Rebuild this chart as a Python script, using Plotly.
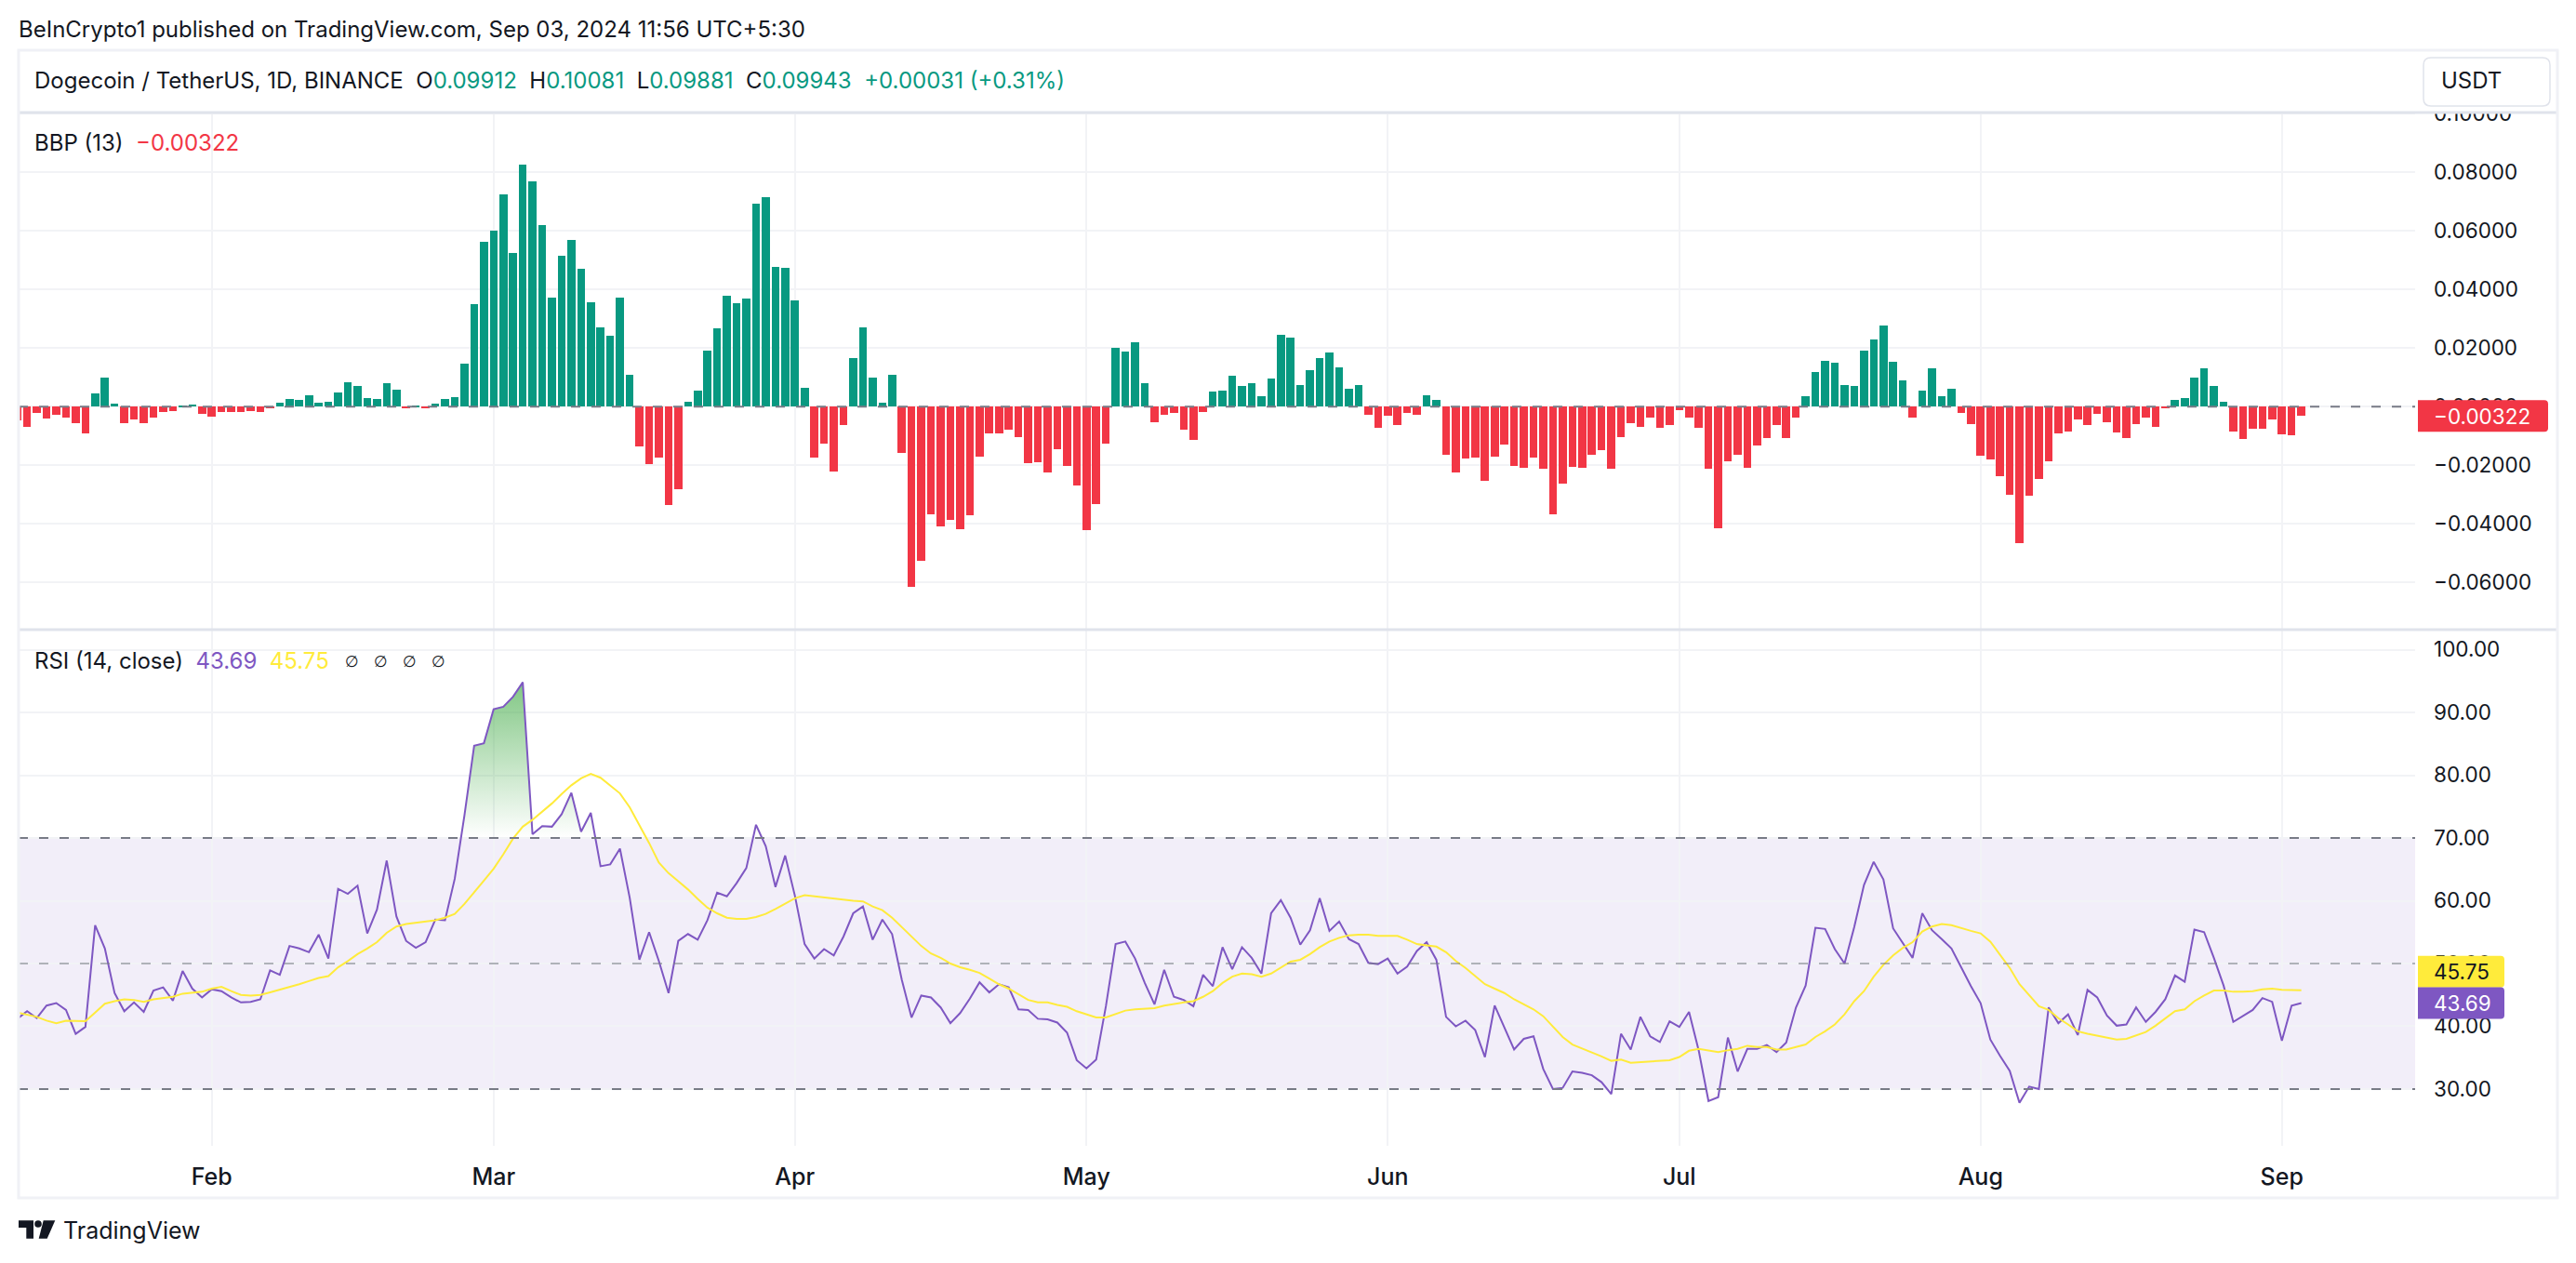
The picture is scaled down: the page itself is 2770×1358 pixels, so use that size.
import numpy as np
import pandas as pd
import plotly.graph_objects as go

W, H = 2770, 1358

# values, one per daily bar from 2024-01-12
bbp = [
    -0.0047, -0.0069, -0.0023, -0.0041, -0.0028, -0.0036, -0.0058, -0.0092, 0.0045, 0.0099,
    0.0010, -0.0058, -0.0045, -0.0055, -0.0036, -0.0017, -0.0014, 0.0004, 0.0007, -0.0025,
    -0.0034, -0.0018, -0.0018, -0.0018, -0.0014, -0.0018, -0.0006, 0.0014, 0.0026, 0.0022,
    0.0039, 0.0014, 0.0017, 0.0048, 0.0083, 0.0070, 0.0029, 0.0026, 0.0080, 0.0058,
    -0.0006, 0.0003, -0.0006, 0.0010, 0.0026, 0.0032, 0.0146, 0.0350, 0.0562, 0.0600,
    0.0724, 0.0525, 0.0826, 0.0768, 0.0620, 0.0372, 0.0515, 0.0569, 0.0471, 0.0357,
    0.0270, 0.0242, 0.0372, 0.0109, -0.0136, -0.0197, -0.0174, -0.0336, -0.0282, 0.0017,
    0.0055, 0.0191, 0.0267, 0.0379, 0.0353, 0.0369, 0.0693, 0.0715, 0.0476, 0.0474,
    0.0362, 0.0063, -0.0174, -0.0127, -0.0222, -0.0063, 0.0165, 0.0270, 0.0099, 0.0014,
    0.0109, -0.0158, -0.0616, -0.0526, -0.0368, -0.0409, -0.0388, -0.0419, -0.0370, -0.0171,
    -0.0092, -0.0092, -0.0078, -0.0105, -0.0193, -0.0190, -0.0224, -0.0146, -0.0202, -0.0270,
    -0.0421, -0.0333, -0.0127, 0.0201, 0.0187, 0.0219, 0.0080, -0.0054, -0.0028, -0.0022,
    -0.0078, -0.0114, -0.0019, 0.0050, 0.0055, 0.0105, 0.0070, 0.0080, 0.0036, 0.0096,
    0.0245, 0.0235, 0.0073, 0.0124, 0.0165, 0.0185, 0.0134, 0.0061, 0.0073, -0.0028,
    -0.0072, -0.0030, -0.0063, -0.0022, -0.0028, 0.0039, 0.0022, -0.0165, -0.0224, -0.0178,
    -0.0174, -0.0253, -0.0171, -0.0129, -0.0202, -0.0209, -0.0174, -0.0212, -0.0368, -0.0263,
    -0.0205, -0.0209, -0.0165, -0.0149, -0.0212, -0.0105, -0.0056, -0.0069, -0.0037, -0.0073,
    -0.0063, -0.0012, -0.0037, -0.0073, -0.0212, -0.0416, -0.0187, -0.0165, -0.0209, -0.0134,
    -0.0107, -0.0063, -0.0107, -0.0037, 0.0036, 0.0118, 0.0156, 0.0150, 0.0073, 0.0070,
    0.0191, 0.0229, 0.0277, 0.0153, 0.0090, -0.0037, 0.0055, 0.0131, 0.0036, 0.0061,
    -0.0022, -0.0059, -0.0168, -0.0180, -0.0238, -0.0302, -0.0467, -0.0304, -0.0248, -0.0187,
    -0.0092, -0.0085, -0.0043, -0.0063, -0.0025, -0.0054, -0.0088, -0.0107, -0.0059, -0.0037,
    -0.0069, -0.0006, 0.0022, 0.0028, 0.0099, 0.0131, 0.0070, 0.0017, -0.0085, -0.0110,
    -0.0076, -0.0076, -0.0044, -0.0095, -0.0098, -0.00322,
]

rsi = [
    41.2, 42.4, 41.3, 43.3, 43.7, 42.6, 38.8, 39.9, 56.1, 52.4,
    45.3, 42.4, 43.8, 42.3, 45.7, 46.2, 44.1, 48.8, 46.0, 44.6,
    45.9, 45.6, 44.6, 43.8, 43.9, 44.3, 48.9, 48.2, 52.8, 52.4,
    51.8, 54.6, 50.8, 61.9, 61.1, 62.4, 54.8, 58.6, 66.4, 57.5,
    53.6, 52.5, 53.4, 57.0, 56.9, 63.5, 73.6, 84.7, 85.1, 90.5,
    90.9, 92.5, 94.8, 70.6, 71.9, 71.8, 73.8, 77.2, 71.0, 74.0,
    65.5, 65.8, 68.3, 60.5, 50.6, 55.0, 50.4, 45.3, 53.6, 54.7,
    53.8, 56.9, 61.3, 60.7, 62.8, 65.2, 72.1, 68.7, 62.2, 67.2,
    60.8, 53.1, 50.8, 52.3, 51.3, 54.3, 58.0, 59.1, 53.8, 57.0,
    54.7, 47.4, 41.4, 44.9, 44.6, 43.0, 40.5, 42.1, 44.4, 47.0,
    45.4, 46.7, 46.2, 42.7, 42.6, 41.2, 41.1, 40.6, 39.0, 34.6,
    33.3, 34.7, 43.2, 53.1, 53.5, 50.8, 46.9, 43.5, 49.0, 44.7,
    44.2, 43.2, 48.2, 46.4, 52.6, 49.1, 52.6, 50.9, 48.4, 58.0,
    60.1, 57.3, 53.0, 55.3, 60.4, 55.2, 56.7, 53.9, 53.1, 50.1,
    49.9, 50.8, 48.4, 49.5, 52.0, 53.4, 50.6, 41.5, 40.0, 40.9,
    39.4, 35.1, 43.3, 39.8, 36.3, 38.0, 38.4, 33.2, 30.0, 30.2,
    32.8, 32.6, 32.2, 31.1, 29.2, 38.8, 36.3, 41.5, 38.4, 37.5,
    40.8, 39.9, 42.3, 36.1, 28.1, 28.7, 38.2, 32.8, 36.4, 36.4,
    37.0, 35.9, 37.4, 43.0, 46.5, 55.7, 55.5, 52.3, 50.0, 55.8,
    62.5, 66.2, 63.4, 55.6, 53.3, 50.9, 58.0, 55.3, 53.9, 52.4,
    49.4, 46.4, 43.7, 37.9, 35.3, 32.9, 27.8, 30.4, 30.0, 43.0,
    40.5, 41.9, 38.6, 45.8, 44.6, 41.7, 40.1, 40.3, 43.0, 40.7,
    42.3, 44.3, 48.1, 47.1, 55.4, 55.0, 50.9, 46.5, 40.7, 41.7,
    42.6, 44.5, 43.9, 37.7, 43.3, 43.69,
]

rsi_ma = [
    42.2, 41.8, 41.5, 40.9, 40.5, 40.9, 40.8, 40.8, 42.2, 43.6,
    44.0, 44.3, 44.2, 43.9, 44.3, 44.5, 44.7, 45.2, 45.4, 45.5,
    46.0, 46.3, 45.6, 45.0, 44.9, 45.0, 45.4, 45.8, 46.2, 46.7,
    47.2, 47.7, 48.0, 49.4, 50.4, 51.5, 52.4, 53.4, 54.9, 55.9,
    56.3, 56.5, 56.6, 56.9, 57.3, 57.9, 59.5, 61.3, 63.2, 65.1,
    67.4, 69.9, 71.8, 72.9, 74.2, 75.5, 77.0, 78.4, 79.5, 80.2,
    79.6, 78.3, 77.1, 74.9, 72.1, 69.2, 66.1, 64.4, 63.1, 61.8,
    60.3, 58.9, 58.0, 57.3, 57.1, 57.1, 57.4, 57.9, 58.7, 59.6,
    60.4, 60.9, 60.7, 60.6, 60.4, 60.2, 60.0, 59.9, 59.1, 58.5,
    57.3, 55.8, 54.3, 52.8, 51.6, 50.9, 50.0, 49.4, 49.0, 48.5,
    47.6, 46.7, 46.0, 45.1, 44.2, 43.8, 43.8, 43.4, 43.1, 42.4,
    41.9, 41.4, 41.4, 41.9, 42.5, 42.7, 42.8, 42.9, 43.3, 43.6,
    43.8, 44.0, 44.7, 45.6, 46.9, 47.9, 48.4, 48.3, 47.9, 48.4,
    49.3, 50.3, 50.6, 51.5, 52.6, 53.5, 54.1, 54.5, 54.6, 54.6,
    54.4, 54.4, 54.4, 53.8, 53.1, 52.9, 52.7, 51.8, 50.4, 49.3,
    48.0, 46.7, 46.0, 45.3, 44.3, 43.5, 42.7, 41.6, 40.0, 38.3,
    37.1, 36.5, 35.9, 35.2, 34.5, 34.7, 34.2, 34.3, 34.5, 34.5,
    34.6, 35.1, 36.1, 36.4, 36.1, 35.9, 36.2, 36.4, 36.9, 36.7,
    36.7, 36.3, 36.3, 36.7, 37.1, 38.3, 39.2, 40.3, 41.9, 44.0,
    45.6, 47.9, 49.8, 51.3, 52.5, 53.4, 55.1, 55.9, 56.3, 56.1,
    55.6, 55.2, 54.8, 53.5, 51.4, 49.3, 46.7, 44.9, 43.2, 42.6,
    41.3, 40.3, 39.2, 38.8, 38.5, 38.1, 37.9, 38.0, 38.6, 39.1,
    40.1, 41.2, 42.4, 42.7, 44.0, 44.9, 45.7, 45.7, 45.5, 45.5,
    45.6, 45.9, 46.0, 45.8, 45.8, 45.75,
]

month_ticks = ["2024-02-01", "2024-03-01", "2024-04-01", "2024-05-01",
               "2024-06-01", "2024-07-01", "2024-08-01", "2024-09-01"]
month_labels = ["Feb", "Mar", "Apr", "May", "Jun", "Jul", "Aug", "Sep"]
bbp_ticks = [-0.06, -0.04, -0.02, 0.0, 0.02, 0.04, 0.06, 0.08, 0.10]
rsi_ticks = [30, 40, 50, 60, 70, 80, 90, 100]

FONT = "Inter"
INK = "#131722"
GREEN = "#089981"
RED = "#F23645"
PURPLE = "#7E57C2"
YELLOW = "#FFEB3B"
GRID = "#F2F3F6"
FRAME = "#F0F1F6"
DIVIDER = "#E0E3EB"
DASH = "#787B86"

dates = pd.date_range("2024-01-12", periods=len(bbp), freq="D")
x_range = ["2024-01-12 03:00", "2024-09-14 17:00"]


def px(x):
    return x / W


def py(y):
    return 1 - y / H


def clipped_polygons(values, level, above=True):
    """Polygons between the line and a level, for the overbought/oversold fills"""
    t = dates.astype("int64").to_numpy() / 1e9
    v = np.array(values)
    outside = v > level if above else v < level
    xs, ys = [], []
    open_poly = False
    for i in range(len(v)):
        if outside[i] and not open_poly:
            if i > 0:
                f = (level - v[i - 1]) / (v[i] - v[i - 1])
                xs.append(t[i - 1] + f * (t[i] - t[i - 1]))
            else:
                xs.append(t[i])
            ys.append(level)
            open_poly = True
        if outside[i]:
            xs.append(t[i])
            ys.append(v[i])
        if open_poly and (i == len(v) - 1 or not outside[i + 1]):
            if i < len(v) - 1:
                f = (level - v[i]) / (v[i + 1] - v[i])
                xs.append(t[i] + f * (t[i + 1] - t[i]))
            else:
                xs.append(t[i])
            ys.append(level)
            xs.append(None)
            ys.append(None)
            open_poly = False
    xs = [None if a is None else pd.Timestamp(a, unit="s") for a in xs]
    return xs, ys


fig = go.Figure()

fig.add_trace(go.Bar(
    x=dates, y=bbp, width=0.82 * 86400000,
    marker=dict(color=[GREEN if v >= 0 else RED for v in bbp], line_width=0),
    xaxis="x", yaxis="y", showlegend=False,
))

over_x, over_y = clipped_polygons(rsi, 70, above=True)
fig.add_trace(go.Scatter(
    x=over_x, y=over_y, mode="none", fill="toself",
    fillgradient=dict(type="vertical", start=70, stop=100,
                      colorscale=[[0, "rgba(76,175,80,0)"], [1, "rgba(76,175,80,0.85)"]]),
    xaxis="x2", yaxis="y2", showlegend=False,
))
under_x, under_y = clipped_polygons(rsi, 30, above=False)
fig.add_trace(go.Scatter(
    x=under_x, y=under_y, mode="none", fill="toself",
    fillgradient=dict(type="vertical", start=0, stop=30,
                      colorscale=[[0, "rgba(242,54,69,1)"], [1, "rgba(242,54,69,0)"]]),
    xaxis="x2", yaxis="y2", showlegend=False,
))
fig.add_trace(go.Scatter(x=dates, y=rsi, mode="lines", line=dict(color=PURPLE, width=2),
                         xaxis="x2", yaxis="y2", showlegend=False))
fig.add_trace(go.Scatter(x=dates, y=rsi_ma, mode="lines", line=dict(color=YELLOW, width=2),
                         xaxis="x2", yaxis="y2", showlegend=False))


def tag_box(y, yref, fill, width, dy=0, height=34, r=4):
    # right corners rounded, sized in pixels around the value it belongs to
    top, bottom = dy + height / 2, dy - height / 2
    path = (f"M 0 {top} L {width - r} {top} Q {width} {top} {width} {top - r} "
            f"L {width} {bottom + r} Q {width} {bottom} {width - r} {bottom} L 0 {bottom} Z")
    return dict(type="path", xref="paper", yref=yref, xsizemode="pixel", ysizemode="pixel",
                xanchor=px(2600), yanchor=y, path=path, fillcolor=fill, line_width=0, layer="above")


shapes = [
    # RSI band and its levels
    dict(type="rect", xref="x2 domain", yref="y2", x0=0, x1=1, y0=30, y1=70,
         fillcolor="rgba(126,87,194,0.1)", line_width=0, layer="below"),
    dict(type="line", xref="x2 domain", yref="y2", x0=0, x1=1, y0=70, y1=70,
         line=dict(color=DASH, width=2, dash="10px,12px")),
    dict(type="line", xref="x2 domain", yref="y2", x0=0, x1=1, y0=30, y1=30,
         line=dict(color=DASH, width=2, dash="10px,12px")),
    dict(type="line", xref="x2 domain", yref="y2", x0=0, x1=1, y0=50, y1=50,
         line=dict(color="rgba(120,123,134,0.55)", width=2, dash="10px,12px")),
    # zero line of the BBP pane
    dict(type="line", xref="x domain", yref="y", x0=0, x1=1, y0=0, y1=0,
         line=dict(color=DASH, width=2, dash="10px,12px")),
    # header mask, hides the top of the clipped 0.10000 label
    dict(type="rect", xref="paper", yref="paper", x0=px(21), x1=px(2749), y0=py(120), y1=py(55),
         fillcolor="white", line_width=0, layer="above"),
    # frame and dividers
    dict(type="line", xref="paper", yref="paper", x0=px(20), x1=px(2750), y0=py(121), y1=py(121),
         line=dict(color=DIVIDER, width=3), layer="above"),
    dict(type="line", xref="paper", yref="paper", x0=px(20), x1=px(2750), y0=py(677), y1=py(677),
         line=dict(color=DIVIDER, width=3), layer="above"),
    dict(type="rect", xref="paper", yref="paper", x0=px(20), x1=px(2750), y0=py(1288), y1=py(54),
         fillcolor="rgba(0,0,0,0)", line=dict(color=FRAME, width=3), layer="above"),
    # USDT box
    dict(type="path", xref="paper", yref="paper", layer="above",
         path=" ".join([
             f"M {px(2614)} {py(62)}", f"L {px(2734)} {py(62)}", f"Q {px(2742)} {py(62)} {px(2742)} {py(70)}",
             f"L {px(2742)} {py(106)}", f"Q {px(2742)} {py(114)} {px(2734)} {py(114)}",
             f"L {px(2614)} {py(114)}", f"Q {px(2606)} {py(114)} {px(2606)} {py(106)}",
             f"L {px(2606)} {py(70)}", f"Q {px(2606)} {py(62)} {px(2614)} {py(62)} Z"]),
         fillcolor="white", line=dict(color=DIVIDER, width=1.5)),
    # TradingView logo
    dict(type="path", xref="paper", yref="paper", layer="above", fillcolor=INK, line_width=0,
         path=f"M {px(20)} {py(1312.3)} L {px(36)} {py(1312.3)} L {px(36)} {py(1331.7)} L {px(28.3)} {py(1331.7)} "
              f"L {px(28.3)} {py(1320)} L {px(20)} {py(1320)} Z"),
    dict(type="circle", xref="paper", yref="paper", layer="above", fillcolor=INK, line_width=0,
         x0=px(37.2), x1=px(44.8), y0=py(1319.8), y1=py(1312.2)),
    dict(type="path", xref="paper", yref="paper", layer="above", fillcolor=INK, line_width=0,
         path=f"M {px(46.7)} {py(1312.3)} L {px(59.3)} {py(1312.3)} L {px(50.7)} {py(1331.7)} L {px(41.7)} {py(1331.7)} Z"),
    # last value tags
    tag_box(-0.00322, "y", RED, 140),
    tag_box(45.75, "y2", YELLOW, 93, dy=20),
    tag_box(43.69, "y2", PURPLE, 93),
]


def note(x, y, text, size=24, color=INK, family=FONT):
    return dict(xref="paper", yref="paper", x=px(x), y=py(y), text=text, showarrow=False,
                xanchor="left", yanchor="middle", align="left", borderpad=0,
                font=dict(family=family, size=size, color=color))


def tag(y, yref, text, color, yshift=0):
    return dict(xref="paper", yref=yref, x=px(2615.5), y=y, text=text, showarrow=False,
                xanchor="left", yanchor="middle", align="left", borderpad=0, yshift=yshift,
                font=dict(family=FONT, size=22.5, color=color))


def c(text, color):
    return f'<span style="color:{color}">{text}</span>'


annotations = [
    note(18.5, 31, "BeInCrypto1 published on TradingView.com, Sep 03, 2024 11:56 UTC+5:30"),
    note(35.5, 86, "Dogecoin / TetherUS, 1D, BINANCE  O" + c("0.09912", GREEN) + "  H" + c("0.10081", GREEN)
         + "  L" + c("0.09881", GREEN) + "  C" + c("0.09943", GREEN) + "  " + c("+0.00031 (+0.31%)", GREEN)),
    note(2623.5, 87, "USDT"),
    note(35.5, 153, "BBP (13)  " + c("−0.00322", RED)),
    note(35.5, 710, "RSI (14, close)  " + c("43.69", PURPLE) + "  " + c("45.75", YELLOW)),
    note(370, 711, "∅", size=17, family="DejaVu Sans"), note(401, 711, "∅", size=17, family="DejaVu Sans"),
    note(432, 711, "∅", size=17, family="DejaVu Sans"), note(463, 711, "∅", size=17, family="DejaVu Sans"),
    note(67, 1323, "TradingView", size=25),
    tag(-0.00322, "y", "−0.00322", "white"),
    tag(45.75, "y2", "45.75", INK, yshift=20),
    tag(43.69, "y2", "43.69", "white"),
]

axis_x = dict(type="date", range=x_range, tickvals=month_ticks, ticktext=month_labels, automargin=False,
              showgrid=True, gridcolor=GRID, gridwidth=2, zeroline=False, showline=False, ticks="")
axis_y = dict(side="right", showgrid=True, gridcolor=GRID, gridwidth=2, zeroline=False, showline=False,
              automargin=False, ticks="", ticklabelstandoff=19, tickfont=dict(family=FONT, size=22.5, color=INK))

fig.update_layout(
    width=W, height=H, margin=dict(l=0, r=0, t=0, b=0), autosize=False,
    paper_bgcolor="white", plot_bgcolor="white", bargap=0, showlegend=False,
    xaxis=dict(axis_x, domain=[px(20), px(2597)], anchor="y", showticklabels=False),
    yaxis=dict(axis_y, domain=[py(677), py(121)], anchor="x", range=[-0.07613, 0.10038],
               tickvals=bbp_ticks, tickformat=".5f"),
    xaxis2=dict(axis_x, domain=[px(20), px(2597)], anchor="y2", matches="x", ticklabelstandoff=16,
                tickfont=dict(family=FONT, size=25, color=INK, weight=500)),
    yaxis2=dict(axis_y, domain=[py(1232), py(677)], anchor="x2", range=[20.96, 103.19],
                tickvals=rsi_ticks, tickformat=".2f"),
    shapes=shapes, annotations=annotations,
)

fig.write_html("out.html", config={"displayModeBar": False},
               post_script="document.body.style.margin='0';document.body.style.overflow='hidden';")
